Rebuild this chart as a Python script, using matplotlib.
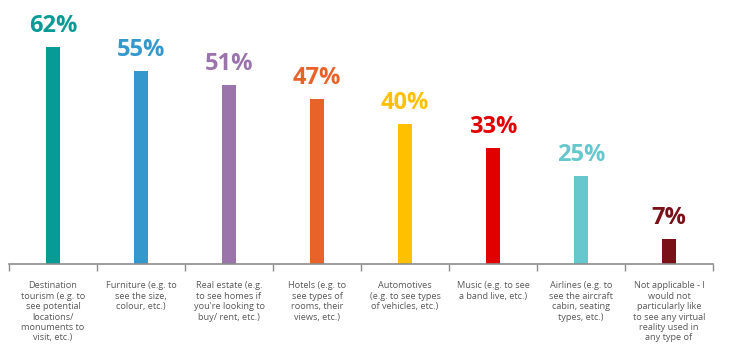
import matplotlib.pyplot as plt
import numpy as np

# share of respondents per use case
categories = [
    "Destination\ntourism (e.g. to\nsee potential\nlocations/\nmonuments to\nvisit, etc.)",
    "Furniture (e.g. to\nsee the size,\ncolour, etc.)",
    "Real estate (e.g.\nto see homes if\nyou're looking to\nbuy/ rent, etc.)",
    "Hotels (e.g. to\nsee types of\nrooms, their\nviews, etc.)",
    "Automotives\n(e.g. to see types\nof vehicles, etc.)",
    "Music (e.g. to see\na band live, etc.)",
    "Airlines (e.g. to\nsee the aircraft\ncabin, seating\ntypes, etc.)",
    "Not applicable - I\nwould not\nparticularly like\nto see any virtual\nreality used in\nany type of",
]
values = [62, 55, 51, 47, 40, 33, 25, 7]
colors = ["#089b96", "#3498cc", "#9a74aa", "#e8632a", "#ffc000", "#e00000", "#66c8cd", "#7a1018"]

fig = plt.figure(figsize=(7.53, 3.44), dpi=100)
ax = fig.add_axes([9 / 753, 80 / 344, 704 / 753, 264 / 344])

x = np.arange(len(values))
ax.bar(x, values, width=0.17, color=colors)

for xi, v, c in zip(x, values, colors):
    ax.text(xi, v + 2.6, f"{v}%", ha="center", va="bottom", color=c,
            fontsize=17, fontweight="bold", family="Open Sans")

ax.set_xlim(-0.5, len(values) - 0.5)
ax.set_ylim(0, 75.4)

for s in ["top", "right", "left"]:
    ax.spines[s].set_visible(False)
ax.spines["bottom"].set_color("#8c8c8c")
ax.spines["bottom"].set_linewidth(1.2)
ax.set_yticks([])

# ticks sit on category boundaries, labels sit on bar centres
ax.set_xticks(np.arange(len(values) + 1) - 0.5)
ax.set_xticklabels([])
ax.tick_params(axis="x", direction="out", length=5, color="#8c8c8c", width=1)
for xi, lab in zip(x, categories):
    ax.annotate(lab, xy=(xi, 0), xycoords="data", xytext=(0, -12.5),
                textcoords="offset points", ha="center", va="top",
                fontsize=6.6, color="#595959", family="Open Sans",
                linespacing=1.2, annotation_clip=False)

fig.savefig("out.png", dpi=100)
